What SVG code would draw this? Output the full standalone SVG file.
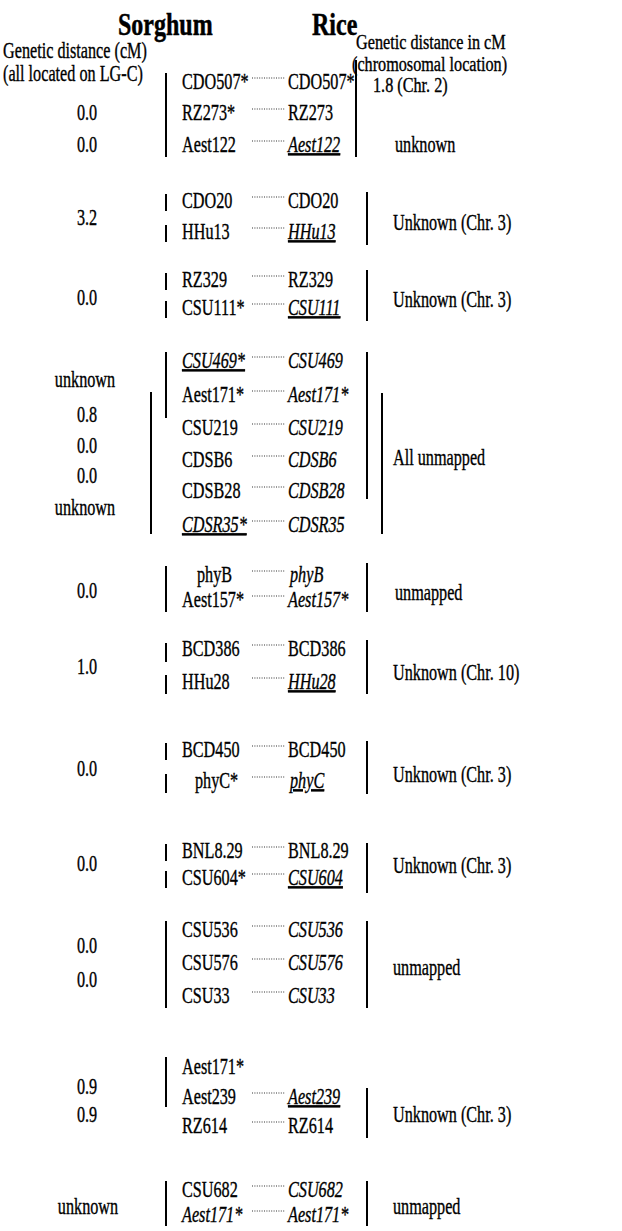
<svg xmlns="http://www.w3.org/2000/svg" width="622" height="1231" viewBox="0 0 622 1231">
<style>
.t{font-family:"Liberation Serif","Times New Roman",serif;font-size:22.5px;fill:#000;stroke:#000;stroke-width:0.35}
.i{font-style:italic}
.u{text-decoration:underline}
.m{text-anchor:middle}
.h{font-weight:bold;font-size:32px;stroke-width:0.5}
.s{font-size:20px}
.bar{stroke:#000;stroke-width:2;fill:none}
.dot{stroke:#333;stroke-width:1.2;stroke-dasharray:1 1.4;fill:none}
</style>
<rect width="622" height="1231" fill="#fff"/>
<g id="header">
<text class="t h" transform="translate(118,35) scale(0.75,1)">Sorghum</text>
<text class="t h" transform="translate(312,35) scale(0.75,1)">Rice</text>
<text class="t" transform="translate(3,58) scale(0.72,1)">Genetic distance (cM)</text>
<text class="t" transform="translate(3,81) scale(0.72,1)">(all located on LG-C)</text>
<text class="t s" transform="translate(356,49) scale(0.81,1)">Genetic distance in cM</text>
<text class="t s" transform="translate(352,71) scale(0.81,1)">(chromosomal location)</text>
<text class="t s" transform="translate(373,92) scale(0.81,1)">1.8 (Chr. 2)</text>
</g>
<g id="group1">
<text class="t" transform="translate(182,89) scale(0.72,1)">CDO507*</text>
<text class="t" transform="translate(182,120) scale(0.72,1)">RZ273*</text>
<text class="t" transform="translate(182,152) scale(0.72,1)">Aest122</text>
<text class="t" transform="translate(288,89) scale(0.72,1)">CDO507*</text>
<text class="t" transform="translate(288,120) scale(0.72,1)">RZ273</text>
<text class="t i u" transform="translate(288,152) scale(0.72,1)">Aest122</text>
<text class="t m" transform="translate(87,120) scale(0.72,1)">0.0</text>
<text class="t m" transform="translate(87,152) scale(0.72,1)">0.0</text>
<text class="t" transform="translate(395,152) scale(0.72,1)">unknown</text>
<line class="bar" x1="166" y1="73" x2="166" y2="157"/>
<line class="bar" x1="356" y1="60" x2="356" y2="157"/>
</g>
<g id="group2">
<text class="t" transform="translate(182,208) scale(0.72,1)">CDO20</text>
<text class="t" transform="translate(182,239) scale(0.72,1)">HHu13</text>
<text class="t" transform="translate(288,208) scale(0.72,1)">CDO20</text>
<text class="t i u" transform="translate(288,239) scale(0.72,1)">HHu13</text>
<text class="t m" transform="translate(87,225) scale(0.72,1)">3.2</text>
<text class="t" transform="translate(393,230) scale(0.72,1)">Unknown (Chr. 3)</text>
<line class="bar" x1="166" y1="194" x2="166" y2="211"/>
<line class="bar" x1="166" y1="225" x2="166" y2="242"/>
<line class="bar" x1="367" y1="192" x2="367" y2="245"/>
</g>
<g id="group3">
<text class="t" transform="translate(182,287) scale(0.72,1)">RZ329</text>
<text class="t" transform="translate(182,315) scale(0.72,1)">CSU111*</text>
<text class="t" transform="translate(288,287) scale(0.72,1)">RZ329</text>
<text class="t i u" transform="translate(288,315) scale(0.72,1)">CSU111</text>
<text class="t m" transform="translate(87,305) scale(0.72,1)">0.0</text>
<text class="t" transform="translate(393,307) scale(0.72,1)">Unknown (Chr. 3)</text>
<line class="bar" x1="166" y1="273" x2="166" y2="290"/>
<line class="bar" x1="166" y1="301" x2="166" y2="318"/>
<line class="bar" x1="367" y1="270" x2="367" y2="321"/>
</g>
<g id="group4">
<text class="t i u" transform="translate(182,368) scale(0.72,1)">CSU469*</text>
<text class="t" transform="translate(182,402) scale(0.72,1)">Aest171*</text>
<text class="t" transform="translate(182,435) scale(0.72,1)">CSU219</text>
<text class="t" transform="translate(182,467) scale(0.72,1)">CDSB6</text>
<text class="t" transform="translate(182,498) scale(0.72,1)">CDSB28</text>
<text class="t i u" transform="translate(182,532) scale(0.72,1)">CDSR35*</text>
<text class="t i" transform="translate(288,368) scale(0.72,1)">CSU469</text>
<text class="t i" transform="translate(288,402) scale(0.72,1)">Aest171*</text>
<text class="t i" transform="translate(288,435) scale(0.72,1)">CSU219</text>
<text class="t i" transform="translate(288,467) scale(0.72,1)">CDSB6</text>
<text class="t i" transform="translate(288,498) scale(0.72,1)">CDSB28</text>
<text class="t i" transform="translate(288,532) scale(0.72,1)">CDSR35</text>
<text class="t m" transform="translate(85,387) scale(0.72,1)">unknown</text>
<text class="t m" transform="translate(87,422) scale(0.72,1)">0.8</text>
<text class="t m" transform="translate(87,453) scale(0.72,1)">0.0</text>
<text class="t m" transform="translate(87,483) scale(0.72,1)">0.0</text>
<text class="t m" transform="translate(85,515) scale(0.72,1)">unknown</text>
<text class="t" transform="translate(393,465) scale(0.72,1)">All  unmapped</text>
<line class="bar" x1="166" y1="352" x2="166" y2="418"/>
<line class="bar" x1="151" y1="392" x2="151" y2="534"/>
<line class="bar" x1="367" y1="352" x2="367" y2="499"/>
<line class="bar" x1="382" y1="393" x2="382" y2="534"/>
</g>
<g id="group5">
<text class="t" transform="translate(197,582) scale(0.72,1)">phyB</text>
<text class="t" transform="translate(182,607) scale(0.72,1)">Aest157*</text>
<text class="t i" transform="translate(290,582) scale(0.72,1)">phyB</text>
<text class="t i" transform="translate(288,607) scale(0.72,1)">Aest157*</text>
<text class="t m" transform="translate(87,598) scale(0.72,1)">0.0</text>
<text class="t" transform="translate(395,600) scale(0.72,1)">unmapped</text>
<line class="bar" x1="166" y1="566" x2="166" y2="612"/>
<line class="bar" x1="367" y1="563" x2="367" y2="612"/>
</g>
<g id="group6">
<text class="t" transform="translate(182,656) scale(0.72,1)">BCD386</text>
<text class="t" transform="translate(182,689) scale(0.72,1)">HHu28</text>
<text class="t" transform="translate(288,656) scale(0.72,1)">BCD386</text>
<text class="t i u" transform="translate(288,689) scale(0.72,1)">HHu28</text>
<text class="t m" transform="translate(87,674) scale(0.72,1)">1.0</text>
<text class="t" transform="translate(393,680) scale(0.72,1)">Unknown (Chr. 10)</text>
<line class="bar" x1="166" y1="643" x2="166" y2="662"/>
<line class="bar" x1="166" y1="675" x2="166" y2="694"/>
<line class="bar" x1="367" y1="640" x2="367" y2="694"/>
</g>
<g id="group7">
<text class="t" transform="translate(182,757) scale(0.72,1)">BCD450</text>
<text class="t" transform="translate(195,788) scale(0.72,1)">phyC*</text>
<text class="t" transform="translate(288,757) scale(0.72,1)">BCD450</text>
<text class="t i u" transform="translate(290,788) scale(0.72,1)">phyC</text>
<text class="t m" transform="translate(87,776) scale(0.72,1)">0.0</text>
<text class="t" transform="translate(393,782) scale(0.72,1)">Unknown (Chr. 3)</text>
<line class="bar" x1="166" y1="743" x2="166" y2="760"/>
<line class="bar" x1="166" y1="774" x2="166" y2="793"/>
<line class="bar" x1="367" y1="741" x2="367" y2="794"/>
</g>
<g id="group8">
<text class="t" transform="translate(182,858) scale(0.72,1)">BNL8.29</text>
<text class="t" transform="translate(182,885) scale(0.72,1)">CSU604*</text>
<text class="t" transform="translate(288,858) scale(0.72,1)">BNL8.29</text>
<text class="t i u" transform="translate(288,885) scale(0.72,1)">CSU604</text>
<text class="t m" transform="translate(87,871) scale(0.72,1)">0.0</text>
<text class="t" transform="translate(393,873) scale(0.72,1)">Unknown (Chr. 3)</text>
<line class="bar" x1="166" y1="844" x2="166" y2="861"/>
<line class="bar" x1="166" y1="871" x2="166" y2="888"/>
<line class="bar" x1="367" y1="843" x2="367" y2="893"/>
</g>
<g id="group9">
<text class="t" transform="translate(182,937) scale(0.72,1)">CSU536</text>
<text class="t" transform="translate(182,970) scale(0.72,1)">CSU576</text>
<text class="t" transform="translate(182,1003) scale(0.72,1)">CSU33</text>
<text class="t i" transform="translate(288,937) scale(0.72,1)">CSU536</text>
<text class="t i" transform="translate(288,970) scale(0.72,1)">CSU576</text>
<text class="t i" transform="translate(288,1003) scale(0.72,1)">CSU33</text>
<text class="t m" transform="translate(87,953) scale(0.72,1)">0.0</text>
<text class="t m" transform="translate(87,987) scale(0.72,1)">0.0</text>
<text class="t" transform="translate(393,975) scale(0.72,1)">unmapped</text>
<line class="bar" x1="166" y1="921" x2="166" y2="1008"/>
<line class="bar" x1="367" y1="921" x2="367" y2="1008"/>
</g>
<g id="group10">
<text class="t" transform="translate(182,1074) scale(0.72,1)">Aest171*</text>
<text class="t" transform="translate(182,1104) scale(0.72,1)">Aest239</text>
<text class="t" transform="translate(182,1133) scale(0.72,1)">RZ614</text>
<text class="t i u" transform="translate(288,1104) scale(0.72,1)">Aest239</text>
<text class="t" transform="translate(288,1133) scale(0.72,1)">RZ614</text>
<text class="t m" transform="translate(87,1094) scale(0.72,1)">0.9</text>
<text class="t m" transform="translate(87,1122) scale(0.72,1)">0.9</text>
<text class="t" transform="translate(393,1122) scale(0.72,1)">Unknown (Chr. 3)</text>
<line class="bar" x1="166" y1="1057" x2="166" y2="1107"/>
<line class="bar" x1="367" y1="1088" x2="367" y2="1138"/>
</g>
<g id="group11">
<text class="t" transform="translate(182,1197) scale(0.72,1)">CSU682</text>
<text class="t i" transform="translate(182,1222) scale(0.72,1)">Aest171*</text>
<text class="t i" transform="translate(288,1197) scale(0.72,1)">CSU682</text>
<text class="t i" transform="translate(288,1222) scale(0.72,1)">Aest171*</text>
<text class="t m" transform="translate(88,1214) scale(0.72,1)">unknown</text>
<text class="t" transform="translate(393,1214) scale(0.72,1)">unmapped</text>
<line class="bar" x1="166" y1="1181" x2="166" y2="1226"/>
<line class="bar" x1="367" y1="1181" x2="367" y2="1226"/>
</g>
<g id="connectors">
<line class="dot" x1="252" y1="78" x2="285" y2="78"/>
<line class="dot" x1="252" y1="109" x2="285" y2="109"/>
<line class="dot" x1="252" y1="141" x2="285" y2="141"/>
<line class="dot" x1="252" y1="197" x2="285" y2="197"/>
<line class="dot" x1="252" y1="228" x2="285" y2="228"/>
<line class="dot" x1="252" y1="276" x2="285" y2="276"/>
<line class="dot" x1="252" y1="304" x2="285" y2="304"/>
<line class="dot" x1="252" y1="357" x2="285" y2="357"/>
<line class="dot" x1="252" y1="391" x2="285" y2="391"/>
<line class="dot" x1="252" y1="424" x2="285" y2="424"/>
<line class="dot" x1="252" y1="456" x2="285" y2="456"/>
<line class="dot" x1="252" y1="487" x2="285" y2="487"/>
<line class="dot" x1="252" y1="521" x2="285" y2="521"/>
<line class="dot" x1="252" y1="571" x2="285" y2="571"/>
<line class="dot" x1="252" y1="596" x2="285" y2="596"/>
<line class="dot" x1="252" y1="645" x2="285" y2="645"/>
<line class="dot" x1="252" y1="678" x2="285" y2="678"/>
<line class="dot" x1="252" y1="746" x2="285" y2="746"/>
<line class="dot" x1="252" y1="777" x2="285" y2="777"/>
<line class="dot" x1="252" y1="847" x2="285" y2="847"/>
<line class="dot" x1="252" y1="874" x2="285" y2="874"/>
<line class="dot" x1="252" y1="926" x2="285" y2="926"/>
<line class="dot" x1="252" y1="959" x2="285" y2="959"/>
<line class="dot" x1="252" y1="992" x2="285" y2="992"/>
<line class="dot" x1="252" y1="1093" x2="285" y2="1093"/>
<line class="dot" x1="252" y1="1122" x2="285" y2="1122"/>
<line class="dot" x1="252" y1="1186" x2="285" y2="1186"/>
<line class="dot" x1="252" y1="1211" x2="285" y2="1211"/>
</g>
</svg>
